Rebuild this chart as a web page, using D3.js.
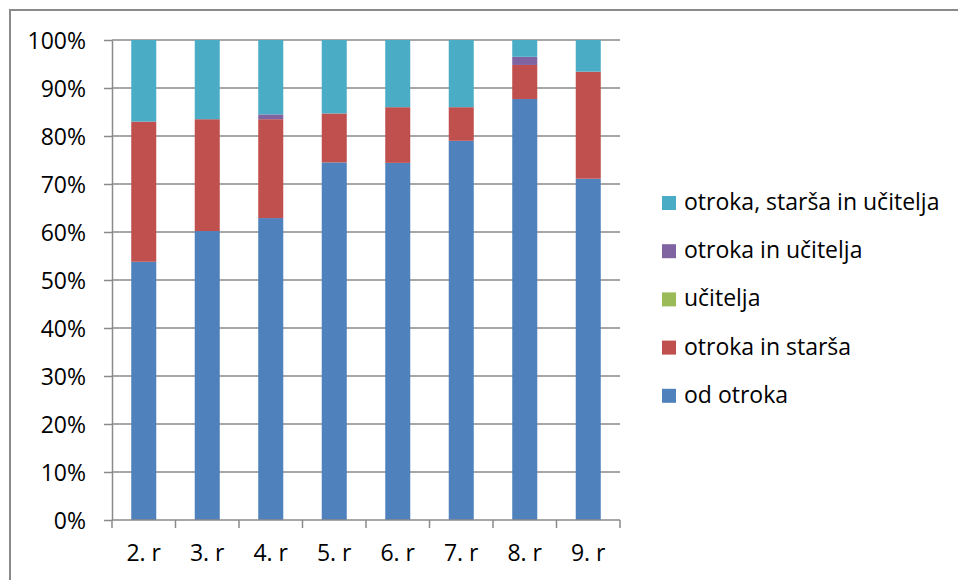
<!DOCTYPE html>
<html>
<head>
<meta charset="utf-8">
<script src="https://cdn.jsdelivr.net/npm/d3@7"></script>
<style>
  body { margin: 0; background: #fff; }
  svg { display: block; font-family: "Open Sans", sans-serif; }
</style>
</head>
<body>
<svg id="chart" width="958" height="580"></svg>
<script>
const categories = ['2. r', '3. r', '4. r', '5. r', '6. r', '7. r', '8. r', '9. r'];
const odOtroka = [53.8, 60.2, 62.9, 74.5, 74.4, 79.0, 87.7, 71.1];
const otrokaInStarsa = [29.2, 23.3, 20.6, 10.2, 11.6, 7.0, 7.1, 22.3];
const ucitelja = [0, 0, 0, 0, 0, 0, 0, 0];
const otrokaInUcitelja = [0, 0, 1.0, 0, 0, 0, 1.7, 0];
const otrokaStarsaUcitelja = [17.0, 16.5, 15.5, 15.3, 14.0, 14.0, 3.5, 6.6];
const seriesNames = ['od otroka', 'otroka in starša', 'učitelja', 'otroka in učitelja', 'otroka, starša in učitelja'];
const seriesColors = ['#4F81BD', '#C0504D', '#9BBB59', '#8064A2', '#4BACC6'];
const yTicks = [0, 10, 20, 30, 40, 50, 60, 70, 80, 90, 100];

const allSeries = [odOtroka, otrokaInStarsa, ucitelja, otrokaInUcitelja, otrokaStarsaUcitelja];
const rows = categories.map(function (c, i) {
  const row = { cat: c };
  seriesNames.forEach(function (s, j) { row[s] = allSeries[j][i]; });
  return row;
});

const plotLeft = 112, plotRight = 620, plotTop = 40, plotBottom = 520;
const gridColor = '#8a8a8a';
const fontSize = '23px';

const svg = d3.select('#chart');

// chart area border
svg.append('rect')
  .attr('x', 10).attr('y', 10)
  .attr('width', 1000).attr('height', 700)
  .attr('fill', 'none')
  .attr('stroke', gridColor)
  .attr('stroke-width', 2);

const x = d3.scaleBand()
  .domain(categories)
  .range([plotLeft, plotRight])
  .paddingInner(0.606)
  .paddingOuter(0.303);

const y = d3.scaleLinear()
  .domain([0, 100])
  .range([plotBottom, plotTop]);

// gridlines
svg.append('g').selectAll('line')
  .data(yTicks.slice(1))
  .enter()
  .append('line')
  .attr('x1', plotLeft).attr('x2', plotRight)
  .attr('y1', d => y(d)).attr('y2', d => y(d))
  .attr('stroke', gridColor)
  .attr('stroke-width', 1.5);

const stack = d3.stack().keys(seriesNames);
const layers = stack(rows);

svg.append('g').selectAll('g')
  .data(layers)
  .enter()
  .append('g')
  .attr('fill', (d, i) => seriesColors[i])
  .selectAll('rect')
  .data(d => d)
  .enter()
  .append('rect')
  .attr('x', d => x(d.data.cat))
  .attr('y', d => y(d[1]))
  .attr('width', x.bandwidth())
  .attr('height', d => y(d[0]) - y(d[1]));

// y axis
const yAxis = svg.append('g')
  .attr('transform', 'translate(' + plotLeft + ',0)')
  .call(d3.axisLeft(y).tickValues(yTicks).tickSize(8).tickSizeOuter(0).tickFormat(d => d + '%'));
yAxis.selectAll('line, path').attr('stroke', gridColor).attr('stroke-width', 1.5);
yAxis.selectAll('text')
  .attr('x', -26)
  .attr('dy', '0.35em')
  .style('font-size', fontSize)
  .style('font-family', '"Open Sans", sans-serif')
  .attr('fill', '#000');

// x axis
const xAxis = svg.append('g')
  .attr('transform', 'translate(0,' + plotBottom + ')');
xAxis.append('line')
  .attr('x1', plotLeft).attr('x2', plotRight)
  .attr('stroke', gridColor).attr('stroke-width', 1.5);
xAxis.selectAll('.tk')
  .data(d3.range(categories.length + 1))
  .enter()
  .append('line')
  .attr('class', 'tk')
  .attr('x1', i => plotLeft + i * x.step())
  .attr('x2', i => plotLeft + i * x.step())
  .attr('y1', 0).attr('y2', 8)
  .attr('stroke', gridColor).attr('stroke-width', 1.5);
xAxis.selectAll('text')
  .data(categories)
  .enter()
  .append('text')
  .attr('x', d => x(d) + x.bandwidth() / 2)
  .attr('y', 41)
  .attr('text-anchor', 'middle')
  .style('font-size', fontSize)
  .text(d => d);

// legend, drawn top to bottom in reverse series order
const legendItems = seriesNames.slice().reverse();
const legend = svg.append('g').selectAll('g')
  .data(legendItems)
  .enter()
  .append('g')
  .attr('transform', (d, i) => 'translate(662,' + (196 + i * 48.2) + ')');

legend.append('rect')
  .attr('width', 14).attr('height', 14)
  .attr('fill', d => seriesColors[seriesNames.indexOf(d)]);

legend.append('text')
  .attr('x', 22)
  .attr('y', 14)
  .style('font-size', fontSize)
  .text(d => d);
</script>
</body>
</html>
